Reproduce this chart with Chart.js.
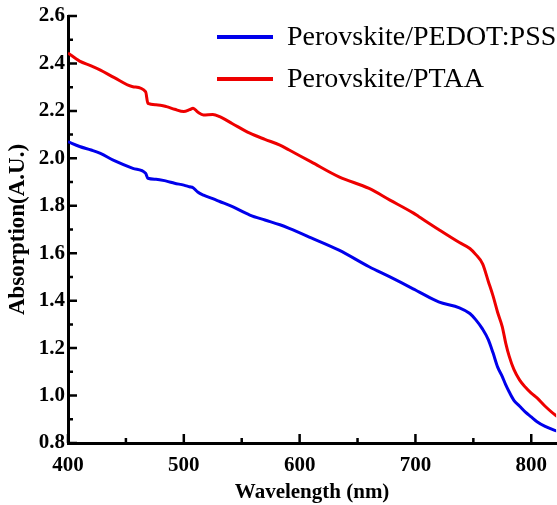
<!DOCTYPE html>
<html>
<head>
<meta charset="utf-8">
<script src="https://cdn.jsdelivr.net/npm/chart.js@4"></script>
<style>
  html, body { margin: 0; padding: 0; background: #fff; }
  #wrap { width: 557px; height: 505px; }
</style>
</head>
<body>
<div id="wrap"><canvas id="chart" width="557" height="505"></canvas></div>
<script>
// absorption spectra (nm -> A.U.)
const wavelengths = [400, 410, 420, 428, 440, 456, 467, 469, 476, 485, 492, 500, 505, 508, 512, 517,
  525, 531, 542, 557, 570, 583, 591, 610, 634, 660, 678, 698, 703, 720, 738, 747, 752, 758, 763,
  767, 771, 775, 778, 781, 785, 790, 795, 800, 805, 812, 821, 825];
const pedotPss = [2.07, 2.05, 2.035, 2.021, 1.99, 1.958, 1.937, 1.916, 1.912, 1.904, 1.895, 1.887,
  1.880, 1.876, 1.858, 1.845, 1.830, 1.818, 1.796, 1.761, 1.74, 1.72, 1.705, 1.665, 1.613, 1.543,
  1.50, 1.45, 1.437, 1.395, 1.37, 1.346, 1.32, 1.28, 1.235, 1.18, 1.12, 1.08, 1.045, 1.015, 0.98,
  0.955, 0.93, 0.91, 0.89, 0.87, 0.852, 0.845];
const ptaa = [2.444, 2.41, 2.39, 2.372, 2.34, 2.302, 2.281, 2.232, 2.226, 2.218, 2.207, 2.197,
  2.205, 2.211, 2.195, 2.183, 2.185, 2.176, 2.146, 2.106, 2.08, 2.056, 2.035, 1.985, 1.922, 1.873,
  1.824, 1.77, 1.754, 1.70, 1.645, 1.620, 1.595, 1.555, 1.48, 1.42, 1.35, 1.29, 1.22, 1.165, 1.11,
  1.065, 1.035, 1.01, 0.99, 0.955, 0.917, 0.905];
const seriesLabels = ["Perovskite/PEDOT:PSS", "Perovskite/PTAA"];
const seriesColors = ["rgb(0,0,235)", "rgb(238,0,0)"];
const xMajor = [400, 500, 600, 700, 800];
const xMinor = [450, 550, 650, 750];
const yMajor = [0.8, 1.0, 1.2, 1.4, 1.6, 1.8, 2.0, 2.2, 2.4, 2.6];
const yMinor = [0.9, 1.1, 1.3, 1.5, 1.7, 1.9, 2.1, 2.3, 2.5];

const serif = "'Liberation Serif', 'Times New Roman', serif";

function points(ys) {
  return wavelengths.map((x, i) => ({ x, y: ys[i] }));
}

// inward tick marks plus the legend in the top right corner
const decorations = {
  id: "decorations",
  afterDraw(chart) {
    const { ctx, chartArea, scales } = chart;
    const xs = scales.x, ys = scales.y;
    ctx.save();
    ctx.strokeStyle = "#000";
    ctx.lineWidth = 2.5;
    ctx.beginPath();
    for (const v of xMajor) { const p = xs.getPixelForValue(v); ctx.moveTo(p, chartArea.bottom); ctx.lineTo(p, chartArea.bottom - 9); }
    for (const v of xMinor) { const p = xs.getPixelForValue(v); ctx.moveTo(p, chartArea.bottom); ctx.lineTo(p, chartArea.bottom - 5); }
    for (const v of yMajor) { const p = ys.getPixelForValue(v); ctx.moveTo(chartArea.left, p); ctx.lineTo(chartArea.left + 9, p); }
    for (const v of yMinor) { const p = ys.getPixelForValue(v); ctx.moveTo(chartArea.left, p); ctx.lineTo(chartArea.left + 5, p); }
    ctx.stroke();

    ctx.font = "28px " + serif;
    ctx.fillStyle = "#000";
    ctx.textBaseline = "alphabetic";
    chart.data.datasets.forEach((ds, i) => {
      const y = 37 + i * 42;
      ctx.strokeStyle = ds.borderColor;
      ctx.lineWidth = 4;
      ctx.beginPath();
      ctx.moveTo(217, y);
      ctx.lineTo(273, y);
      ctx.stroke();
      ctx.fillText(ds.label, 287, y + 8);
    });
    ctx.restore();
  },
};

new Chart(document.getElementById("chart"), {
  type: "line",
  data: {
    datasets: [
      { label: seriesLabels[0], data: points(pedotPss), borderColor: seriesColors[0] },
      { label: seriesLabels[1], data: points(ptaa), borderColor: seriesColors[1] },
    ].map(d => ({ ...d, borderWidth: 3, pointRadius: 0, cubicInterpolationMode: "monotone", fill: false })),
  },
  options: {
    responsive: false,
    animation: false,
    layout: { padding: { top: 16, right: 0, left: 0, bottom: 0 } },
    plugins: { legend: { display: false }, tooltip: { enabled: false } },
    scales: {
      x: {
        type: "linear",
        min: 400,
        max: 821.5,
        afterBuildTicks: s => { s.ticks = xMajor.map(value => ({ value })); },
        afterFit: s => { s.height = 62; },
        grid: { display: false, drawTicks: false },
        border: { display: true, color: "#000", width: 3 },
        ticks: { color: "#000", padding: 10, maxRotation: 0, font: { family: serif, size: 21, weight: "bold" } },
        title: { display: true, text: "Wavelength (nm)", color: "#000", padding: 0,
          font: { family: serif, size: 21, weight: "bold" } },
      },
      y: {
        type: "linear",
        min: 0.8,
        max: 2.6,
        afterBuildTicks: s => { s.ticks = yMajor.map(value => ({ value })); },
        afterFit: s => { s.width = 68; },
        grid: { display: false, drawTicks: false },
        border: { display: true, color: "#000", width: 3 },
        ticks: { color: "#000", padding: 3, callback: v => v.toFixed(1),
          font: { family: serif, size: 21, weight: "bold" } },
        title: { display: true, text: "Absorption(A.U.)", color: "#000", padding: { top: 4, bottom: 0 },
          font: { family: serif, size: 23, weight: "bold" } },
      },
    },
  },
  plugins: [decorations],
});
</script>
</body>
</html>
